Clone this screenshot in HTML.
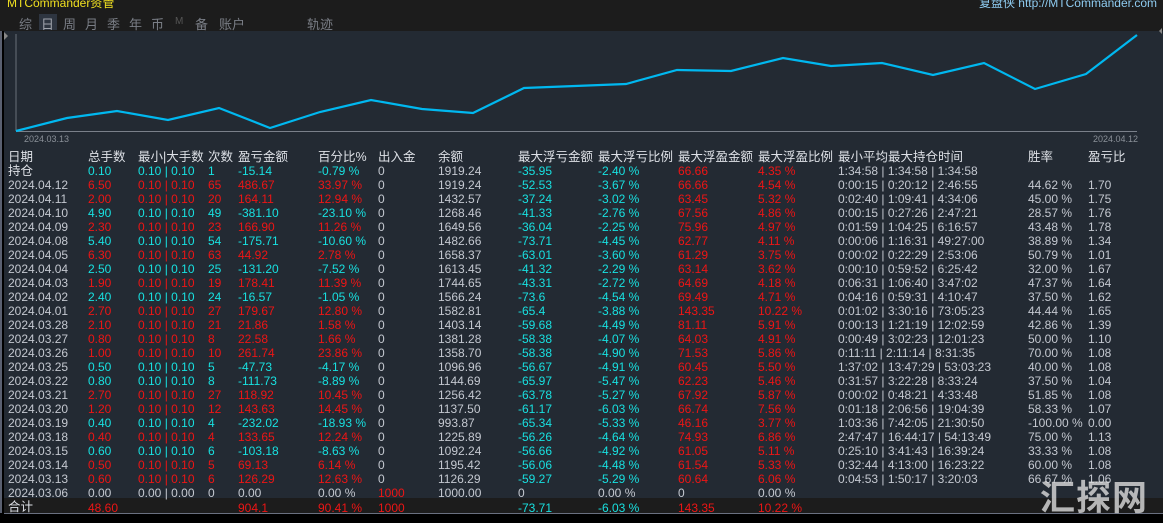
<!DOCTYPE html>
<html style="overflow:hidden"><head><meta charset="utf-8"><style>
html,body{margin:0;width:1163px;height:523px;overflow:hidden}
body{background:#000;font-family:"Liberation Sans","Noto Sans CJK SC",sans-serif;position:relative}
.top{position:absolute;left:0;top:0;width:1163px;height:31px;background:#1c1c1c}
.main{position:absolute;left:4px;top:31px;width:1159px;height:482px;background:#232a33}
.tot{position:absolute;left:4px;top:498px;width:1159px;height:15px;background:#1c1c1c;border-bottom:1px solid #6a7080}
table{position:absolute;left:8px;top:150px;border-collapse:collapse;table-layout:fixed;font-size:12px;color:#c4c8d0}
td{padding:0;height:14px;line-height:14px;white-space:nowrap;overflow:hidden}
.h td{color:#dde0e6;font-size:12.5px}
.c td{color:#18e0e0}.r td{color:#ee1515}
.c td:first-child,.r td:first-child,.c td.g,.r td.g{color:#c4c8d0}
.tab{position:absolute;top:14px;font-size:13px;color:#7a7e86}
</style></head><body>
<div class="top"></div>
<div style="position:absolute;left:7px;top:-6px;font-size:12px;color:#f0e020;white-space:nowrap">MTCommander资管</div>
<div style="position:absolute;right:6px;top:-6px;font-size:12px;color:#8ecbf0;white-space:nowrap">复盘侠 http://MTCommander.com</div>
<div style="position:absolute;left:39px;top:14px;width:18px;height:16px;background:#2e3540"></div>
<span class="tab" style="left:19px">综</span><span class="tab" style="left:41px;color:#a0a4ac">日</span><span class="tab" style="left:63px">周</span><span class="tab" style="left:85px">月</span><span class="tab" style="left:107px">季</span><span class="tab" style="left:129px">年</span><span class="tab" style="left:151px">币</span><span class="tab" style="left:175px;font-size:10px;top:16px;color:#555">M</span><span class="tab" style="left:195px">备</span><span class="tab" style="left:219px">账户</span><span class="tab" style="left:307px">轨迹</span>
<div class="main"></div>
<div style="position:absolute;left:0;top:31px;width:2px;height:482px;background:#5a6070"></div>
<svg style="position:absolute;left:0;top:0" width="1163" height="150">
<line x1="16" y1="34" x2="16" y2="131" stroke="#6a707a"/>
<line x1="16" y1="131.5" x2="1137" y2="131.5" stroke="#7a808a"/>
<polyline fill="none" stroke="#00b8f0" stroke-width="2.2" points="16,131 67,118 117,111 168,120 219,108 270,128 320,112 371,100 422,109 473,113 524,88 575,86 626,84 677,70 731,71 783,58 831,66 882,63 933,75 984,63 1035,89 1086,74 1137,35"/>
<text x="24" y="142" font-size="9" fill="#8a9098" font-family="Liberation Sans">2024.03.13</text>
<text x="1093" y="142" font-size="9" fill="#8a9098" font-family="Liberation Sans">2024.04.12</text>
<polygon points="4,32 8,36 4,40" fill="#888"/><polygon points="1162,28 1159,31 1162,34" fill="#888"/>
</svg>
<div class="tot"></div>
<table>
<colgroup><col style="width:80px"><col style="width:50px"><col style="width:70px"><col style="width:30px"><col style="width:80px"><col style="width:60px"><col style="width:60px"><col style="width:80px"><col style="width:80px"><col style="width:80px"><col style="width:80px"><col style="width:80px"><col style="width:190px"><col style="width:60px"><col style="width:75px"></colgroup>
<tr class="h"><td>日期</td><td>总手数</td><td>最小|大手数</td><td>次数</td><td>盈亏金额</td><td>百分比%</td><td>出入金</td><td>余额</td><td>最大浮亏金额</td><td>最大浮亏比例</td><td>最大浮盈金额</td><td>最大浮盈比例</td><td>最小平均最大持仓时间</td><td>胜率</td><td>盈亏比</td></tr>
<tr class="c"><td style="font-size:12.5px;color:#dde0e6">持仓</td><td>0.10</td><td>0.10 | 0.10</td><td>1</td><td>-15.14</td><td>-0.79 %</td><td class="g">0</td><td class="g">1919.24</td><td>-35.95</td><td>-2.40 %</td><td style="color:#ee1515">66.66</td><td style="color:#ee1515">4.35 %</td><td class="g">1:34:58 | 1:34:58 | 1:34:58</td><td class="g"></td><td class="g"></td></tr>
<tr class="r"><td>2024.04.12</td><td>6.50</td><td>0.10 | 0.10</td><td>65</td><td>486.67</td><td>33.97 %</td><td class="g">0</td><td class="g">1919.24</td><td style="color:#18e0e0">-52.53</td><td style="color:#18e0e0">-3.67 %</td><td>66.66</td><td>4.54 %</td><td class="g">0:00:15 | 0:20:12 | 2:46:55</td><td class="g">44.62 %</td><td class="g">1.70</td></tr>
<tr class="r"><td>2024.04.11</td><td>2.00</td><td>0.10 | 0.10</td><td>20</td><td>164.11</td><td>12.94 %</td><td class="g">0</td><td class="g">1432.57</td><td style="color:#18e0e0">-37.24</td><td style="color:#18e0e0">-3.02 %</td><td>63.45</td><td>5.32 %</td><td class="g">0:02:40 | 1:09:41 | 4:34:06</td><td class="g">45.00 %</td><td class="g">1.75</td></tr>
<tr class="c"><td>2024.04.10</td><td>4.90</td><td>0.10 | 0.10</td><td>49</td><td>-381.10</td><td>-23.10 %</td><td class="g">0</td><td class="g">1268.46</td><td>-41.33</td><td>-2.76 %</td><td style="color:#ee1515">67.56</td><td style="color:#ee1515">4.86 %</td><td class="g">0:00:15 | 0:27:26 | 2:47:21</td><td class="g">28.57 %</td><td class="g">1.76</td></tr>
<tr class="r"><td>2024.04.09</td><td>2.30</td><td>0.10 | 0.10</td><td>23</td><td>166.90</td><td>11.26 %</td><td class="g">0</td><td class="g">1649.56</td><td style="color:#18e0e0">-36.04</td><td style="color:#18e0e0">-2.25 %</td><td>75.96</td><td>4.97 %</td><td class="g">0:01:59 | 1:04:25 | 6:16:57</td><td class="g">43.48 %</td><td class="g">1.78</td></tr>
<tr class="c"><td>2024.04.08</td><td>5.40</td><td>0.10 | 0.10</td><td>54</td><td>-175.71</td><td>-10.60 %</td><td class="g">0</td><td class="g">1482.66</td><td>-73.71</td><td>-4.45 %</td><td style="color:#ee1515">62.77</td><td style="color:#ee1515">4.11 %</td><td class="g">0:00:06 | 1:16:31 | 49:27:00</td><td class="g">38.89 %</td><td class="g">1.34</td></tr>
<tr class="r"><td>2024.04.05</td><td>6.30</td><td>0.10 | 0.10</td><td>63</td><td>44.92</td><td>2.78 %</td><td class="g">0</td><td class="g">1658.37</td><td style="color:#18e0e0">-63.01</td><td style="color:#18e0e0">-3.60 %</td><td>61.29</td><td>3.75 %</td><td class="g">0:00:02 | 0:22:29 | 2:53:06</td><td class="g">50.79 %</td><td class="g">1.01</td></tr>
<tr class="c"><td>2024.04.04</td><td>2.50</td><td>0.10 | 0.10</td><td>25</td><td>-131.20</td><td>-7.52 %</td><td class="g">0</td><td class="g">1613.45</td><td>-41.32</td><td>-2.29 %</td><td style="color:#ee1515">63.14</td><td style="color:#ee1515">3.62 %</td><td class="g">0:00:10 | 0:59:52 | 6:25:42</td><td class="g">32.00 %</td><td class="g">1.67</td></tr>
<tr class="r"><td>2024.04.03</td><td>1.90</td><td>0.10 | 0.10</td><td>19</td><td>178.41</td><td>11.39 %</td><td class="g">0</td><td class="g">1744.65</td><td style="color:#18e0e0">-43.31</td><td style="color:#18e0e0">-2.72 %</td><td>64.69</td><td>4.18 %</td><td class="g">0:06:31 | 1:06:40 | 3:47:02</td><td class="g">47.37 %</td><td class="g">1.64</td></tr>
<tr class="c"><td>2024.04.02</td><td>2.40</td><td>0.10 | 0.10</td><td>24</td><td>-16.57</td><td>-1.05 %</td><td class="g">0</td><td class="g">1566.24</td><td>-73.6</td><td>-4.54 %</td><td style="color:#ee1515">69.49</td><td style="color:#ee1515">4.71 %</td><td class="g">0:04:16 | 0:59:31 | 4:10:47</td><td class="g">37.50 %</td><td class="g">1.62</td></tr>
<tr class="r"><td>2024.04.01</td><td>2.70</td><td>0.10 | 0.10</td><td>27</td><td>179.67</td><td>12.80 %</td><td class="g">0</td><td class="g">1582.81</td><td style="color:#18e0e0">-65.4</td><td style="color:#18e0e0">-3.88 %</td><td>143.35</td><td>10.22 %</td><td class="g">0:01:02 | 3:30:16 | 73:05:23</td><td class="g">44.44 %</td><td class="g">1.65</td></tr>
<tr class="r"><td>2024.03.28</td><td>2.10</td><td>0.10 | 0.10</td><td>21</td><td>21.86</td><td>1.58 %</td><td class="g">0</td><td class="g">1403.14</td><td style="color:#18e0e0">-59.68</td><td style="color:#18e0e0">-4.49 %</td><td>81.11</td><td>5.91 %</td><td class="g">0:00:13 | 1:21:19 | 12:02:59</td><td class="g">42.86 %</td><td class="g">1.39</td></tr>
<tr class="r"><td>2024.03.27</td><td>0.80</td><td>0.10 | 0.10</td><td>8</td><td>22.58</td><td>1.66 %</td><td class="g">0</td><td class="g">1381.28</td><td style="color:#18e0e0">-58.38</td><td style="color:#18e0e0">-4.07 %</td><td>64.03</td><td>4.91 %</td><td class="g">0:00:49 | 3:02:23 | 12:01:23</td><td class="g">50.00 %</td><td class="g">1.10</td></tr>
<tr class="r"><td>2024.03.26</td><td>1.00</td><td>0.10 | 0.10</td><td>10</td><td>261.74</td><td>23.86 %</td><td class="g">0</td><td class="g">1358.70</td><td style="color:#18e0e0">-58.38</td><td style="color:#18e0e0">-4.90 %</td><td>71.53</td><td>5.86 %</td><td class="g">0:11:11 | 2:11:14 | 8:31:35</td><td class="g">70.00 %</td><td class="g">1.08</td></tr>
<tr class="c"><td>2024.03.25</td><td>0.50</td><td>0.10 | 0.10</td><td>5</td><td>-47.73</td><td>-4.17 %</td><td class="g">0</td><td class="g">1096.96</td><td>-56.67</td><td>-4.91 %</td><td style="color:#ee1515">60.45</td><td style="color:#ee1515">5.50 %</td><td class="g">1:37:02 | 13:47:29 | 53:03:23</td><td class="g">40.00 %</td><td class="g">1.08</td></tr>
<tr class="c"><td>2024.03.22</td><td>0.80</td><td>0.10 | 0.10</td><td>8</td><td>-111.73</td><td>-8.89 %</td><td class="g">0</td><td class="g">1144.69</td><td>-65.97</td><td>-5.47 %</td><td style="color:#ee1515">62.23</td><td style="color:#ee1515">5.46 %</td><td class="g">0:31:57 | 3:22:28 | 8:33:24</td><td class="g">37.50 %</td><td class="g">1.04</td></tr>
<tr class="r"><td>2024.03.21</td><td>2.70</td><td>0.10 | 0.10</td><td>27</td><td>118.92</td><td>10.45 %</td><td class="g">0</td><td class="g">1256.42</td><td style="color:#18e0e0">-63.78</td><td style="color:#18e0e0">-5.27 %</td><td>67.92</td><td>5.87 %</td><td class="g">0:00:02 | 0:48:21 | 4:33:48</td><td class="g">51.85 %</td><td class="g">1.08</td></tr>
<tr class="r"><td>2024.03.20</td><td>1.20</td><td>0.10 | 0.10</td><td>12</td><td>143.63</td><td>14.45 %</td><td class="g">0</td><td class="g">1137.50</td><td style="color:#18e0e0">-61.17</td><td style="color:#18e0e0">-6.03 %</td><td>66.74</td><td>7.56 %</td><td class="g">0:01:18 | 2:06:56 | 19:04:39</td><td class="g">58.33 %</td><td class="g">1.07</td></tr>
<tr class="c"><td>2024.03.19</td><td>0.40</td><td>0.10 | 0.10</td><td>4</td><td>-232.02</td><td>-18.93 %</td><td class="g">0</td><td class="g">993.87</td><td>-65.34</td><td>-5.33 %</td><td style="color:#ee1515">46.16</td><td style="color:#ee1515">3.77 %</td><td class="g">1:03:36 | 7:42:05 | 21:30:50</td><td class="g">-100.00 %</td><td class="g">0.00</td></tr>
<tr class="r"><td>2024.03.18</td><td>0.40</td><td>0.10 | 0.10</td><td>4</td><td>133.65</td><td>12.24 %</td><td class="g">0</td><td class="g">1225.89</td><td style="color:#18e0e0">-56.26</td><td style="color:#18e0e0">-4.64 %</td><td>74.93</td><td>6.86 %</td><td class="g">2:47:47 | 16:44:17 | 54:13:49</td><td class="g">75.00 %</td><td class="g">1.13</td></tr>
<tr class="c"><td>2024.03.15</td><td>0.60</td><td>0.10 | 0.10</td><td>6</td><td>-103.18</td><td>-8.63 %</td><td class="g">0</td><td class="g">1092.24</td><td>-56.66</td><td>-4.92 %</td><td style="color:#ee1515">61.05</td><td style="color:#ee1515">5.11 %</td><td class="g">0:25:10 | 3:41:43 | 16:39:24</td><td class="g">33.33 %</td><td class="g">1.08</td></tr>
<tr class="r"><td>2024.03.14</td><td>0.50</td><td>0.10 | 0.10</td><td>5</td><td>69.13</td><td>6.14 %</td><td class="g">0</td><td class="g">1195.42</td><td style="color:#18e0e0">-56.06</td><td style="color:#18e0e0">-4.48 %</td><td>61.54</td><td>5.33 %</td><td class="g">0:32:44 | 4:13:00 | 16:23:22</td><td class="g">60.00 %</td><td class="g">1.08</td></tr>
<tr class="r"><td>2024.03.13</td><td>0.60</td><td>0.10 | 0.10</td><td>6</td><td>126.29</td><td>12.63 %</td><td class="g">0</td><td class="g">1126.29</td><td style="color:#18e0e0">-59.27</td><td style="color:#18e0e0">-5.29 %</td><td>60.64</td><td>6.06 %</td><td class="g">0:04:53 | 1:50:17 | 3:20:03</td><td class="g">66.67 %</td><td class="g">1.06</td></tr>
<tr><td>2024.03.06</td><td>0.00</td><td>0.00 | 0.00</td><td>0</td><td>0.00</td><td>0.00 %</td><td style="color:#ee1515">1000</td><td>1000.00</td><td>0</td><td>0.00 %</td><td>0</td><td>0.00 %</td><td></td><td></td><td></td></tr>
<tr style="height:15px"><td style="font-size:12.5px;color:#dde0e6;height:15px;line-height:15px">合计</td><td style="color:#ee1515">48.60</td><td></td><td></td><td style="color:#ee1515">904.1</td><td style="color:#ee1515">90.41 %</td><td style="color:#ee1515">1000</td><td></td><td style="color:#18e0e0">-73.71</td><td style="color:#18e0e0">-6.03 %</td><td style="color:#ee1515">143.35</td><td style="color:#ee1515">10.22 %</td><td></td><td></td><td></td></tr>
</table>
<div style="position:absolute;left:1040px;top:479px;font-size:35px;font-weight:bold;color:rgba(220,220,220,0.8);letter-spacing:1px;line-height:40px;white-space:nowrap">汇探网</div>
</body></html>
